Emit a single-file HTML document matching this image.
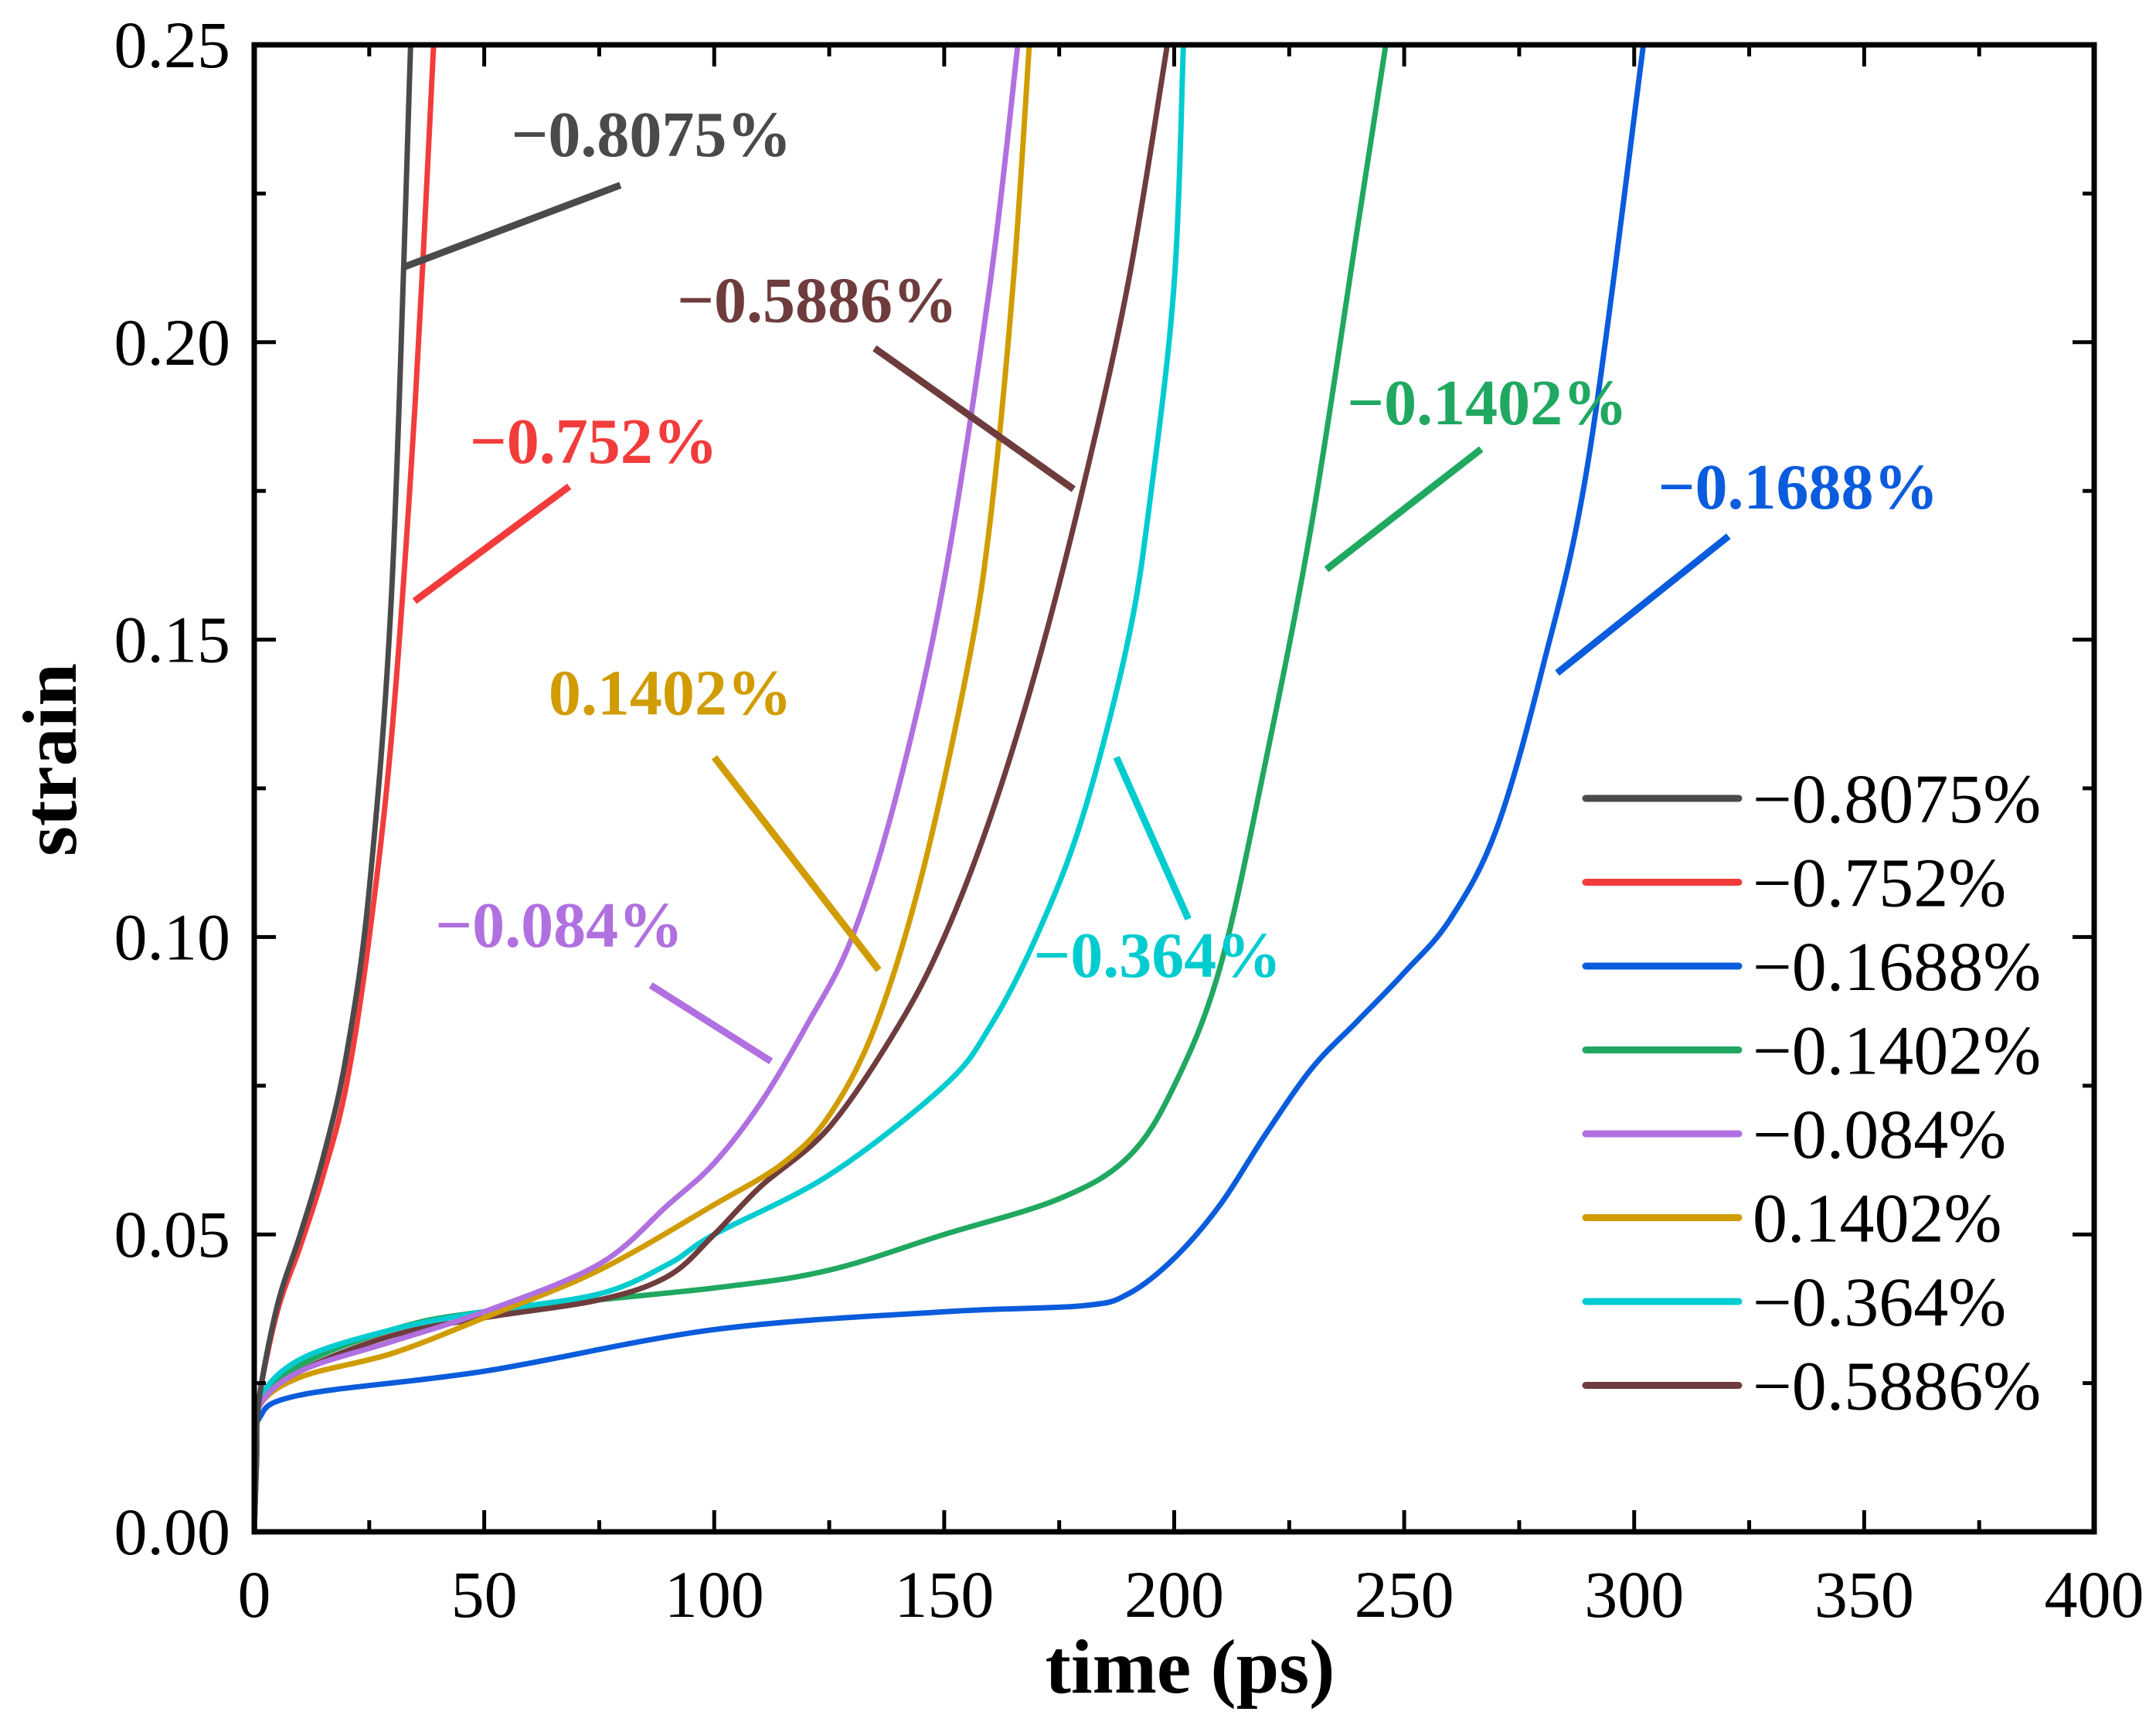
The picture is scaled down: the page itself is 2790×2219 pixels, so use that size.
<!DOCTYPE html>
<html><head><meta charset="utf-8"><style>
html,body{margin:0;padding:0;background:#fff}
svg{display:block}
text{font-family:"Liberation Serif",serif}
</style></head><body>
<svg id="chart" width="2790" height="2219" viewBox="0 0 2790 2219" xmlns="http://www.w3.org/2000/svg">
<defs><clipPath id="plotclip"><rect x="329" y="58" width="2381" height="1924"/></clipPath></defs>
<rect width="2790" height="2219" fill="#fff"/>
<g id="series" clip-path="url(#plotclip)"></g>
<g id="axes"></g>
<g id="annot"></g>
<g id="legend"></g>
</svg>
<script>
const seriesNames=["−0.8075%","−0.752%","−0.1688%","−0.1402%","−0.084%","0.1402%","−0.364%","−0.5886%"];
const seriesColors=["#4a4a4a","#f23c3c","#0a5cdc","#20a860","#b070e0","#d09c00","#00ccd0","#6e3c3c"];
const tBlack=[0,0.5,1,5,10,15,20,25,30,34];
const sBlack=[0,0.012,0.022,0.038,0.05,0.063,0.08,0.108,0.16,0.25];
const tRed=[0,0.5,1,5,10,15,20,25,30,35,39];
const sRed=[0,0.012,0.022,0.037,0.048,0.06,0.075,0.1,0.135,0.19,0.25];
const tBlue=[0,0.5,1,10,50,100,150,180,190,200,210,220,230,240,250,260,270,280,290,302];
const sBlue=[0,0.012,0.019,0.023,0.027,0.034,0.037,0.038,0.040,0.046,0.055,0.067,0.078,0.086,0.094,0.103,0.118,0.145,0.18,0.25];
const tGreen=[0,0.5,1,10,30,50,100,125,150,175,190,200,210,220,230,240,246];
const sGreen=[0,0.013,0.021,0.028,0.034,0.037,0.041,0.044,0.050,0.056,0.063,0.075,0.095,0.13,0.17,0.22,0.25];
const tPurple=[0,0.5,1,10,30,50,75,90,100,110,120,130,140,150,160,166];
const sPurple=[0,0.013,0.021,0.027,0.032,0.037,0.045,0.055,0.062,0.072,0.085,0.10,0.125,0.16,0.21,0.25];
const tGold=[0,0.5,1,10,30,50,75,100,115,125,135,145,155,160,165,168.5];
const sGold=[0,0.013,0.021,0.026,0.030,0.036,0.044,0.055,0.062,0.070,0.085,0.11,0.145,0.17,0.21,0.25];
const tCyan=[0,0.5,1,10,30,50,75,90,100,125,150,160,170,180,190,195,200,202];
const sCyan=[0,0.013,0.022,0.029,0.034,0.037,0.040,0.045,0.050,0.060,0.075,0.085,0.10,0.12,0.15,0.175,0.21,0.25];
const tBrown=[0,0.5,1,10,30,50,75,90,100,110,125,140,150,160,170,180,190,198.5];
const sBrown=[0,0.013,0.021,0.027,0.033,0.036,0.039,0.043,0.050,0.058,0.068,0.085,0.10,0.12,0.145,0.175,0.21,0.25];
const xTicks=[0,50,100,150,200,250,300,350,400];
const yTicks=[0,0.05,0.10,0.15,0.20,0.25];
const yTickLabels=["0.00","0.05","0.10","0.15","0.20","0.25"];

const NS="http://www.w3.org/2000/svg";
const L=329,R=2710,T=58,B=1982;
const xs=v=>L+(v/400)*(R-L);
const ys=v=>B-(v/0.25)*(B-T);
function mk(tag,attrs,parent){const e=document.createElementNS(NS,tag);for(const k in attrs)e.setAttribute(k,attrs[k]);parent.appendChild(e);return e;}

const allT=[tBlack,tRed,tBlue,tGreen,tPurple,tGold,tCyan,tBrown];
const allS=[sBlack,sRed,sBlue,sGreen,sPurple,sGold,sCyan,sBrown];
const order=[2,3,6,7,5,4,1,0];
const gS=document.getElementById('series');
order.forEach(i=>{
  const p=allT[i].map((t,j)=>[xs(t),ys(allS[i][j])]);
  let d="M"+p[0][0]+","+p[0][1];
  for(let j=0;j<p.length-1;j++){
    const p0=p[Math.max(0,j-1)],p1=p[j],p2=p[j+1],p3=p[Math.min(p.length-1,j+2)];
    const c1=[p1[0]+(p2[0]-p0[0])/6,p1[1]+(p2[1]-p0[1])/6];
    const c2=[p2[0]-(p3[0]-p1[0])/6,p2[1]-(p3[1]-p1[1])/6];
    d+=" C"+c1[0]+","+c1[1]+" "+c2[0]+","+c2[1]+" "+p2[0]+","+p2[1];
  }
  const e=mk('path',{d:d,fill:"none",stroke:seriesColors[i],"stroke-width":7,"stroke-linejoin":"round"},gS);
  
  
});

const gA=document.getElementById('axes');
const frame=mk('rect',{x:L,y:T,width:R-L,height:B-T,fill:"none",stroke:"#000","stroke-width":7},gA);


for(let v=0;v<=400;v+=25){
  const maj=v%50===0,len=maj?28:15,x=xs(v);
  mk('line',{x1:x,y1:B,x2:x,y2:B-len,stroke:"#000","stroke-width":5},gA);
  mk('line',{x1:x,y1:T,x2:x,y2:T+len,stroke:"#000","stroke-width":5},gA);
}
for(let k=0;k<=10;k++){
  const v=k*0.025,maj=k%2===0,len=maj?28:15,y=ys(v);
  mk('line',{x1:L,y1:y,x2:L+len,y2:y,stroke:"#000","stroke-width":5},gA);
  mk('line',{x1:R,y1:y,x2:R-len,y2:y,stroke:"#000","stroke-width":5},gA);
}
xTicks.forEach(v=>{
  const t=mk('text',{x:xs(v),y:2092,"font-size":86,"text-anchor":"middle",fill:"#000"},gA);
  t.textContent=String(v);
  
  
});
yTicks.forEach((v,i)=>{
  const t=mk('text',{x:298,y:ys(v)+29,"font-size":86,"text-anchor":"end",fill:"#000"},gA);
  t.textContent=yTickLabels[i];
  
  
});
const xt=mk('text',{x:1540,y:2190,"font-size":100,"font-weight":"bold","text-anchor":"middle",fill:"#000"},gA);
xt.textContent="time (ps)";


const yt=mk('text',{x:0,y:0,"font-size":100,"font-weight":"bold","text-anchor":"middle",fill:"#000",transform:"translate(98,983) rotate(-90)"},gA);
yt.textContent="strain";



const annots=[
 [0,"−0.8075%",370,113,293,193,449,134],
 [1,"−0.752%",340,335,300,435,412,352],
 [7,"−0.5886%",490,233,633,252,777,354],
 [5,"0.1402%",397,517,517,548,636,702],
 [4,"−0.084%",315,685,471,713,558,768],
 [6,"−0.364%",748,707,808,548,860,665],
 [3,"−0.1402%",975,307,960,412,1072,325],
 [2,"−0.1688%",1200,368,1127,487,1251,388]
];
const gN=document.getElementById('annot');
const S=1.788;
annots.forEach(a=>{
  const ln=mk('line',{x1:a[4]*S,y1:a[5]*S,x2:a[6]*S,y2:a[7]*S,stroke:seriesColors[a[0]],"stroke-width":9},gN);
  
  
  const t=mk('text',{x:a[2]*S,y:a[3]*S,"font-size":84,"font-weight":"bold",fill:seriesColors[a[0]]},gN);
  t.textContent=a[1];
  
  
});

const gL=document.getElementById('legend');
seriesNames.forEach((n,i)=>{
  const y=1033+i*108.5;
  const g=mk('g',{},gL);
  
  
  mk('line',{x1:2052,y1:y,x2:2250,y2:y,stroke:seriesColors[i],"stroke-width":9,"stroke-linecap":"round"},g);
  const t=mk('text',{x:2268,y:y+31,"font-size":90,fill:"#000"},g);
  t.textContent=n;
});
</script>
</body></html>
